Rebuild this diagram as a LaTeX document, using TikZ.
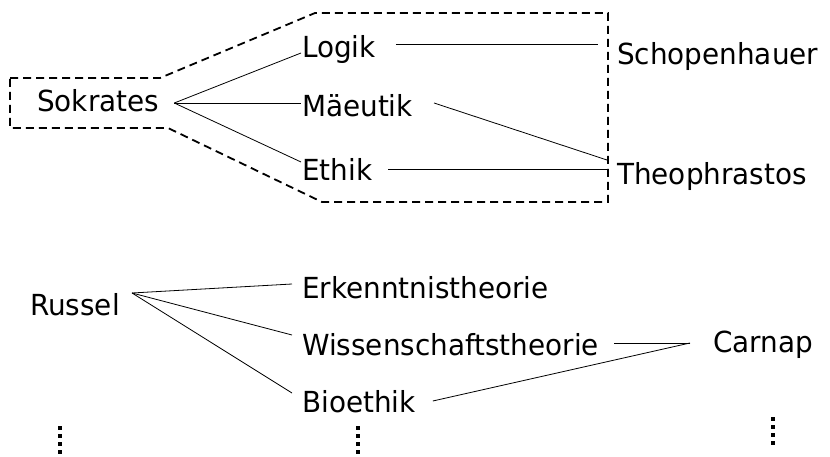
\documentclass[tikz,border=0pt]{standalone}
\usepackage{fontspec}
\setmainfont[FakeStretch=0.96]{DejaVu Sans}
\begin{document}
\begin{tikzpicture}[x=1pt,y=1pt,
  lbl/.style={anchor=base west,inner sep=0pt,font=\fontsize{29}{32}\selectfont},
  conn/.style={line width=0.8pt},
  grp/.style={line width=1.8pt,dash pattern=on 8pt off 5pt},
  vdot/.style={line width=4pt,dash pattern=on 4pt off 4pt}]
\useasboundingbox (0,0) rectangle (830,456);
% nodes
\node[lbl] (sok) at (37,344) {Sokrates};
\node[lbl] (logik) at (302,398) {Logik};
\node[lbl] (mae) at (302,339) {Mäeutik};
\node[lbl] (ethik) at (302,276) {Ethik};
\node[lbl] (schop) at (617,391) {Schopenhauer};
\node[lbl] (theo) at (617,271) {Theophrastos};
\node[lbl] (russel) at (30,141) {Russel};
\node[lbl] (erk) at (302,158) {Erkenntnistheorie};
\node[lbl] (wiss) at (302,101) {Wissenschaftstheorie};
\node[lbl] (bio) at (302,44) {Bioethik};
\node[lbl] (carnap) at (713,104) {Carnap};
% group outline
\draw[grp] (10,378) -- (160,378) -- (315,443) -- (608,443) -- (608,254)
  -- (322,254) -- (168,328) -- (10,328) -- cycle;
% Sokrates connectors
\coordinate (so) at ([xshift=15pt,yshift=9pt]sok.base east);
\draw[conn] (so) -- ([xshift=-1pt,yshift=5pt]logik.base west);
\draw[conn] (so) -- ([xshift=-1pt,yshift=14pt]mae.base west);
\draw[conn] (so) -- ([xshift=-1pt,yshift=18pt]ethik.base west);
\draw[conn] ([xshift=20pt,yshift=14pt]logik.base east) -- ([xshift=-19pt,yshift=21pt]schop.base west);
\draw[conn] ([xshift=21pt,yshift=14pt]mae.base east) -- ([xshift=-10pt,yshift=25pt]theo.base west);
\draw[conn] ([xshift=16pt,yshift=11pt]ethik.base east) -- ([xshift=-10pt,yshift=16pt]theo.base west);
% Russel connectors
\coordinate (ro) at ([xshift=12pt,yshift=22pt]russel.base east);
\draw[conn] (ro) -- ([xshift=-10pt,yshift=14pt]erk.base west);
\draw[conn] (ro) -- ([xshift=-10pt,yshift=20pt]wiss.base west);
\draw[conn] (ro) -- ([xshift=-10pt,yshift=19pt]bio.base west);
% Carnap connectors
\coordinate (co) at ([xshift=-23pt,yshift=9pt]carnap.base west);
\draw[conn] (co) -- ([xshift=15pt,yshift=12pt]wiss.base east);
\draw[conn] (co) -- ([xshift=17pt,yshift=11pt]bio.base east);
% continuation dots
\coordinate (d1a) at (60,30); \coordinate (d1b) at (60,0);
\coordinate (d2a) at (358,30); \coordinate (d2b) at (358,0);
\coordinate (d3a) at (773,39); \coordinate (d3b) at (773,9);
\draw[vdot] (d1a) -- (d1b);
\draw[vdot] (d2a) -- (d2b);
\draw[vdot] (d3a) -- (d3b);
\end{tikzpicture}
\end{document}
